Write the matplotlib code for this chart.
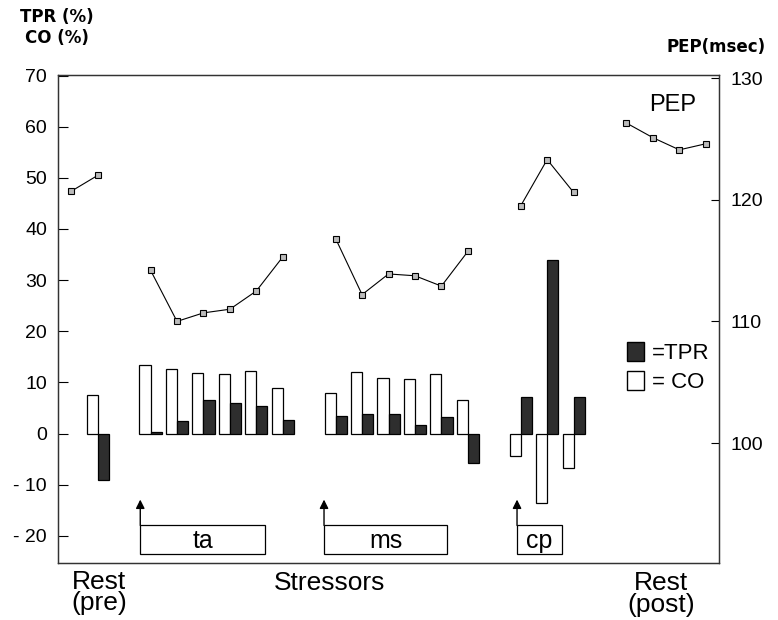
#!/usr/bin/env python3

import numpy as np
import matplotlib.pyplot as plt
plt.switch_backend('agg')
from matplotlib.patches import Rectangle, Patch

plt.rcParams['font.family'] = ['Liberation Sans', 'DejaVu Sans']

# percent change of cardiac output (CO) and total peripheral resistance (TPR)
co_pre = [7.5]
tpr_pre = [-9.1]
co_ta = [13.4, 12.6, 11.9, 11.6, 12.2, 8.9]
tpr_ta = [0.4, 2.5, 6.6, 6.0, 5.4, 2.7]
co_ms = [8.0, 12.0, 10.8, 10.6, 11.6, 6.5]
tpr_ms = [3.4, 3.8, 3.8, 1.7, 3.2, -5.8]
co_cp = [-4.3, -13.6, -6.7]
tpr_cp = [7.2, 33.9, 7.2]

# pre-ejection period (msec)
pep_pre = [120.7, 122.0]
pep_ta = [114.2, 110.0, 110.7, 111.0, 112.5, 115.3]
pep_ms = [116.8, 112.2, 113.9, 113.75, 112.9, 115.75]
pep_cp = [119.5, 123.3, 120.6]
pep_post = [126.3, 125.1, 124.1, 124.6]

left_ticks = [-20, -10, 0, 10, 20, 30, 40, 50, 60, 70]
left_labels = ['- 20', '- 10', '0', '10', '20', '30', '40', '50', '60', '70']
right_ticks = [100, 110, 120, 130]

# slot positions along the time axis
x_pre = [0, 1]
x_ta = list(range(3, 9))
x_ms = list(range(10, 16))
x_cp = list(range(17, 20))
x_post = list(range(21, 25))

bw = 0.42
dark = '#2e2e2e'

fig = plt.figure(figsize=(7.78, 6.2), dpi=100)
ax = fig.add_axes([0.0746, 0.0919, 0.8496, 0.7871])
ax2 = ax.twinx()

bar_x = [1] + x_ta + x_ms + x_cp
co_all = co_pre + co_ta + co_ms + co_cp
tpr_all = tpr_pre + tpr_ta + tpr_ms + tpr_cp
ax.bar(bar_x, co_all, width=-bw, align='edge', facecolor='white',
       edgecolor='black', linewidth=0.9, zorder=3)
ax.bar(bar_x, tpr_all, width=bw, align='edge', facecolor=dark,
       edgecolor='black', linewidth=0.9, zorder=3)

for xs, ys in [(x_pre, pep_pre), (x_ta, pep_ta), (x_ms, pep_ms),
               (x_cp, pep_cp), (x_post, pep_post)]:
    ax2.plot(xs, ys, '-', color='black', lw=0.8, marker='s', markersize=4,
             markerfacecolor='#bbbbbb', markeredgecolor='black',
             markeredgewidth=0.8)

ax.set_xlim(-0.5, 24.5)
ax.set_ylim(-25.3, 70.1)
ax2.set_ylim(90.14, 130.25)
ax.set_xticks([])
ax.set_yticks(left_ticks)
ax.set_yticklabels(left_labels)
ax2.set_yticks(right_ticks)
ax.tick_params(axis='y', direction='in', length=7, width=0.8, labelsize=14, pad=8)
ax2.tick_params(axis='y', direction='in', length=6, width=0.8, labelsize=14, pad=8)
for a in (ax, ax2):
    for s in a.spines.values():
        s.set_linewidth(0.9)
        s.set_color('#333333')

# stressor markers: arrow plus labelled box
for x0, x1, name in [(2.61, 7.33, 'ta'), (9.56, 14.21, 'ms'), (16.86, 18.56, 'cp')]:
    ax.add_patch(Rectangle((x0, -23.6), x1 - x0, 5.7, facecolor='white',
                           edgecolor='black', linewidth=0.9, zorder=4))
    ax.text((x0 + x1) / 2, -20.9, name, ha='center', va='center',
            fontsize=18, zorder=5)
    ax.annotate('', xy=(x0, -12.9), xytext=(x0, -17.95),
                arrowprops=dict(arrowstyle='-|>', color='black', lw=1.0,
                                mutation_scale=13, shrinkA=0, shrinkB=0))

ax2.text(22.75, 126.9, 'PEP', fontsize=17, ha='center', va='bottom')

handles = [Patch(facecolor=dark, edgecolor='black'),
           Patch(facecolor='white', edgecolor='black')]
ax.legend(handles, ['=TPR', '= CO'], loc='center left',
          bbox_to_anchor=(0.83, 0.40), frameon=False, fontsize=16,
          handlelength=0.8, handleheight=0.95, handletextpad=0.35,
          labelspacing=0.3)

hdr = dict(fontsize=12, fontweight='bold', va='center', family='DejaVu Sans')
fig.text(0.026, 0.972, 'TPR (%)', **hdr)
fig.text(0.032, 0.938, 'CO (%)', **hdr)
fig.text(0.857, 0.925, 'PEP(msec)', **hdr)

fig.text(0.127, 0.044, 'Rest\n(pre)', fontsize=19, ha='center', va='center',
         linespacing=0.85)
fig.text(0.424, 0.059, 'Stressors', fontsize=19, ha='center', va='center')
fig.text(0.85, 0.042, 'Rest\n(post)', fontsize=19, ha='center', va='center',
         linespacing=0.85)

fig.savefig('out.png', dpi=100)
